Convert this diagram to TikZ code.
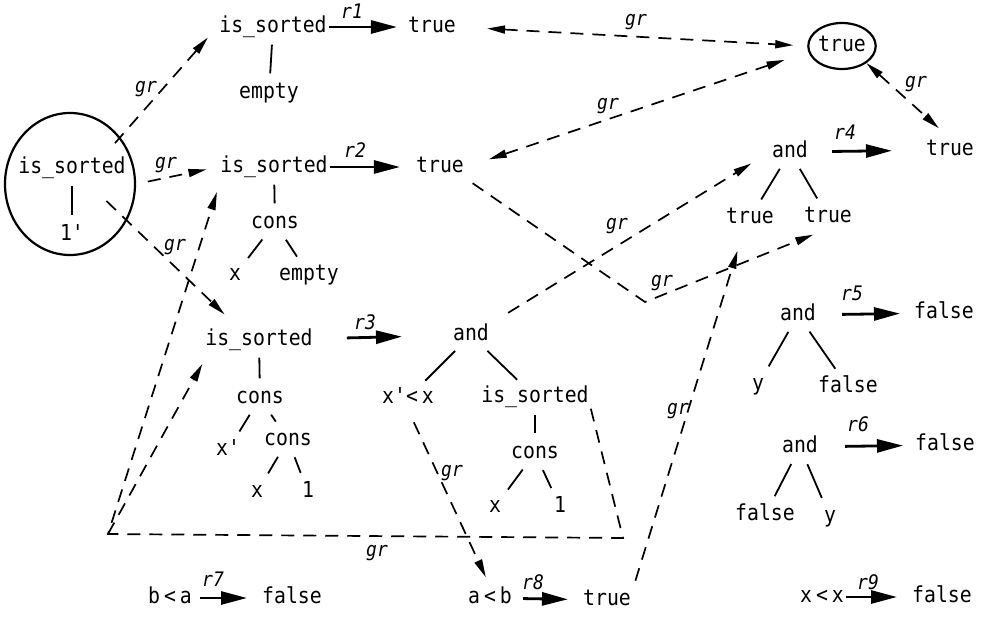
\documentclass[tikz,border=0pt]{standalone}
\usepackage{fontspec}
\setmonofont{DejaVu Sans Mono}[FakeStretch=0.9]
\usetikzlibrary{arrows.meta,shapes.geometric,calc}
\begin{document}
\begin{tikzpicture}[x=1pt,y=-1pt,
  every node/.style={font=\ttfamily\fontsize{22}{24}\selectfont, inner sep=2pt, text height=15pt, text depth=4pt},
  lbl/.style={font=\ttfamily\itshape\fontsize{20}{21}\selectfont, inner sep=0pt, text height=12pt, text depth=4pt},
  tree/.style={line width=1.8pt, shorten <=6pt, shorten >=8pt},
  rw/.style={line width=2.8pt, -{Triangle[length=26pt,width=13pt]}},
  grn/.style={line width=1.7pt, dash pattern=on 13pt off 9pt},
  gr/.style={grn, -{Triangle[length=18pt,width=8pt]}},
  grb/.style={grn, {Triangle[length=18pt,width=8pt]}-{Triangle[length=18pt,width=8pt]}},
  ring/.style={draw, ellipse, line width=2.2pt, inner sep=0pt}
]
\path[use as bounding box] (0,0) rectangle (983,620);

% ---- nodes ----
\node[ring, minimum width=130pt, minimum height=142pt] (big) at (70,184) {};
\node (is0) at (72,168) {is\_sorted};
\node (l0) at (72,235) {1'};

\node (is1) at (273,27) {is\_sorted};
\node (e1) at (269,93) {empty};
\node (t1) at (432,27) {true};
\node[ring, minimum width=66pt, minimum height=46pt] (tc) at (842,46) {true};

\node (is2) at (274,167) {is\_sorted};
\node (t2) at (440,167) {true};
\node (c2) at (275,223) {cons};
\node (x2) at (235,275) {x};
\node (em2) at (309,275) {empty};

\node (is3) at (259,340) {is\_sorted};
\node (c3) at (260,398) {cons};
\node (xp3) at (228,450) {x'};
\node (c3b) at (288,440) {cons};
\node (x3) at (257,492) {x};
\node (l3) at (308,492) {1};

\node (and3) at (471,335) {and};
\node (xlt) at (408,398) {x'<\hspace{4pt}x};
\node (is3s) at (535,397) {is\_sorted};
\node (c3s) at (535,453) {cons};
\node (x3s) at (495,507) {x};
\node (l3s) at (560,507) {1};

\node (and4) at (790,152) {and};
\node (t4a) at (750,218) {true};
\node (t4b) at (828,217) {true};
\node (t4) at (950,150) {true};

\node (and5) at (798,315) {and};
\node (y5) at (758,385) {y};
\node (f5b) at (848,387) {false};
\node (f5) at (944,313) {false};

\node (and6) at (800,447) {and};
\node (f6a) at (765,515) {false};
\node (y6) at (830,517) {y};
\node (f6) at (945,445) {false};

\node (ba) at (170,598) {b\hspace{4pt}<\hspace{4pt}a};
\node (f7) at (292,598) {false};
\node (ab) at (490,598) {a\hspace{4pt}<\hspace{4pt}b};
\node (t8) at (607,600) {true};
\node (xx) at (822,597) {x\hspace{4pt}<\hspace{4pt}x};
\node (f9) at (942,597) {false};

\coordinate (k1) at (645,302);
\coordinate (k2) at (623,538);
\coordinate (k3) at (108,534);

% ---- tree edges ----
\draw[tree] (is0) -- (l0);
\draw[tree] (is1) -- (e1);
\draw[tree] (is2) -- (c2);
\draw[tree] (c2) -- (x2);
\draw[tree] (c2) -- (em2);
\draw[tree] (is3) -- (c3);
\draw[tree] (c3) -- (xp3);
\draw[tree] (c3) -- (c3b);
\draw[tree] (c3b) -- (x3);
\draw[tree] (c3b) -- (l3);
\draw[tree] (and3) -- (xlt);
\draw[tree] (and3) -- (is3s);
\draw[tree] (is3s) -- (c3s);
\draw[tree] (c3s) -- (x3s);
\draw[tree] (c3s) -- (l3s);
\draw[tree] (and4) -- (t4a);
\draw[tree] (and4) -- (t4b);
\draw[tree] (and5) -- (y5);
\draw[tree] (and5) -- (f5b);
\draw[tree] (and6) -- (f6a);
\draw[tree] (and6) -- (y6);

% ---- rewrite arrows ----
\draw[rw, shorten >=9pt] (is1) -- (t1);
\draw[rw, shorten >=14pt] (is2) -- (t2);
\draw[rw, shorten <=32pt, shorten >=49pt] (is3) -- (and3);
\draw[rw, shorten <=22pt, shorten >=32pt] (and4) -- (t4);
\draw[rw, shorten <=24pt, shorten >=12pt] (and5) -- (f5);
\draw[rw, shorten <=25pt, shorten >=10pt] (and6) -- (f6);
\draw[rw, shorten <=6pt, shorten >=13pt] (ba) -- (f7);
\draw[rw, shorten <=9pt, shorten >=13pt] (ab) -- (t8);
\draw[rw, shorten >=13pt] (xx) -- (f9);

\node[lbl] (r1) at (352,15) {r1};
\node[lbl] (r2) at (355,154) {r2};
\node[lbl] (r3) at (365,326) {r3};
\node[lbl] (r4) at (845,136) {r4};
\node[lbl] (r5) at (852,297) {r5};
\node[lbl] (r6) at (858,427) {r6};
\node[lbl] (r7) at (213,582) {r7};
\node[lbl] (r8) at (533,585) {r8};
\node[lbl] (r9) at (868,585) {r9};

% ---- gr connectors ----
\draw[gr, shorten <=-8pt, shorten >=14pt] (big.43) -- (is1.west);
\draw[gr, shorten <=12pt, shorten >=12pt] (big.east) -- (is2.west);
\draw[gr, shorten >=20pt] ($(big.center)!0.6!(big.-25)$) -- ([xshift=-20pt]is3.north);
\draw[grb, shorten <=29pt, shorten >=14pt] (t1.east) -- (tc.west);
\draw[grb, shorten <=24pt, shorten >=25pt] (t2.east) -- (tc.190);
\draw[grb, shorten >=15pt] (tc.-35) -- (t4.north);
\draw[gr, shorten <=8pt, shorten >=16pt] (t2.south east) -- (k1) -- (t4b.south);
\draw[gr, shorten <=20pt, shorten >=22pt] (and3.north east) -- (and4.west);
\draw[gr, shorten >=14pt] (is3s.south east) -- (k2) -- (k3) -- ([xshift=3pt]is2.south west);
\draw[gr, shorten >=14pt] (k3) -- ([xshift=6pt]is3.south west);
\draw[gr, shorten <=14pt, shorten >=10pt] (xlt.south) -- (ab.north);
\draw[gr, shorten <=8pt, shorten >=22pt] (t8.north east) -- ([xshift=-6pt]t4a.south);

\node[lbl] (g1) at (146,89) {gr};
\node[lbl] (g2) at (166,165) {gr};
\node[lbl] (g3) at (175,247) {gr};
\node[lbl] (g4) at (636,22) {gr};
\node[lbl] (g5) at (608,106) {gr};
\node[lbl] (g6) at (916,84) {gr};
\node[lbl] (g7) at (662,283) {gr};
\node[lbl] (g8) at (617,226) {gr};
\node[lbl] (g9) at (377,552) {gr};
\node[lbl] (g10) at (452,472) {gr};
\node[lbl] (g11) at (678,410) {gr};
\end{tikzpicture}
\end{document}
